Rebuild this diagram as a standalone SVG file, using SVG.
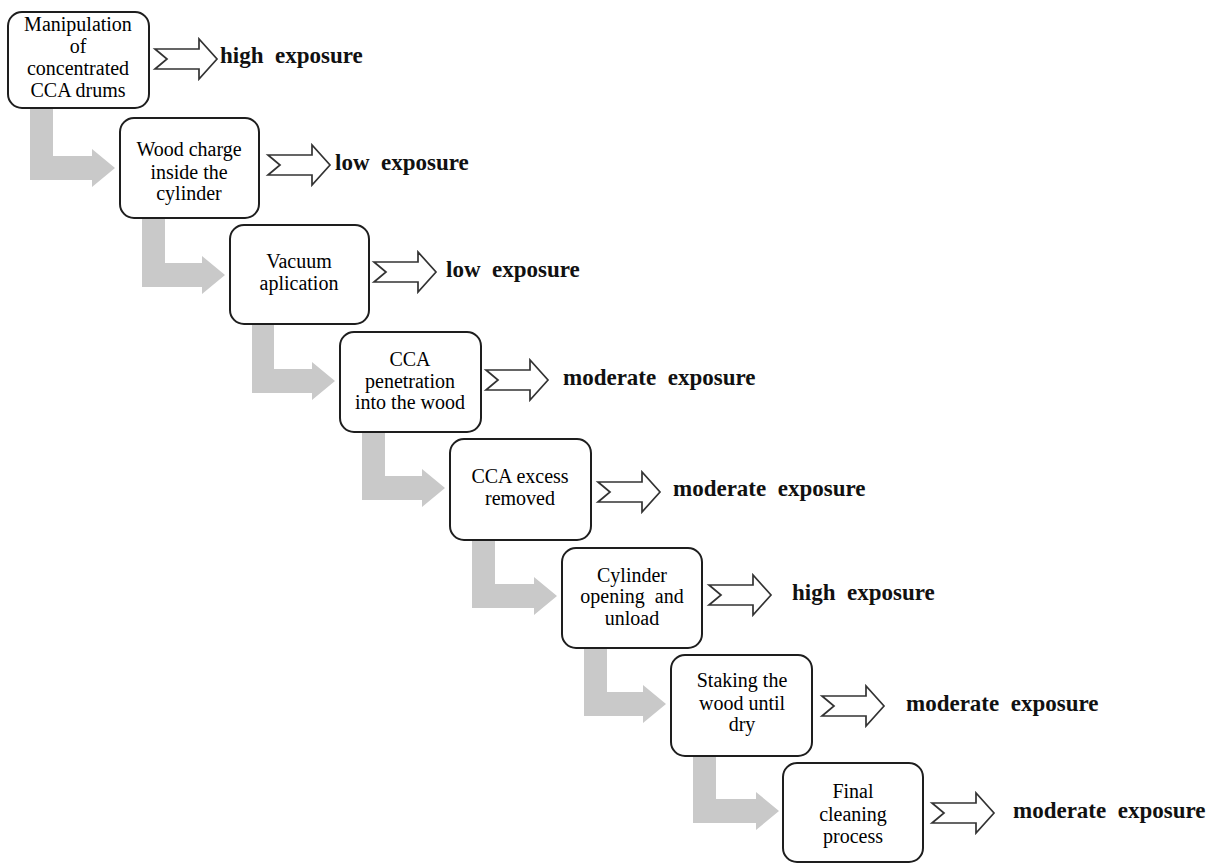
<svg xmlns="http://www.w3.org/2000/svg" width="1217" height="864" viewBox="0 0 1217 864">
<style>
.box{fill:#fff;stroke:#1e1e1e;stroke-width:2}
.bt{font-family:"Liberation Serif","Times New Roman",serif;font-size:20px;fill:#000;text-anchor:middle}
.lbl{font-family:"Liberation Serif","Times New Roman",serif;font-size:23px;font-weight:bold;fill:#111}
.ha{fill:#fff;stroke:#333;stroke-width:1.7;stroke-linejoin:miter}
.ga{fill:#c9c9c9}
</style>
<defs>
<polygon id="hollow" class="ha" points="0,-10 44,-10 44,-20 62,0 44,20 44,10 0,10 12,0"/>
</defs>
<rect width="1217" height="864" fill="#fff"/>
<g id="connectors">
<polygon class="ga" points="30,108 53,108 53,156 92,156 92,149 115,168 92,187 92,180 30,180"/>
<polygon class="ga" points="142,218 165,218 165,263 202,263 202,256 225,275 202,294 202,287 142,287"/>
<polygon class="ga" points="252,324 274,324 274,369 312,369 312,362 335,381 312,400 312,393 252,393"/>
<polygon class="ga" points="362,432 385,432 385,476 422,476 422,469 445,488 422,507 422,500 362,500"/>
<polygon class="ga" points="472,540 495,540 495,584 534,584 534,577 557,596 534,615 534,608 472,608"/>
<polygon class="ga" points="584,648 607,648 607,692 643,692 643,685 666,704 643,723 643,716 584,716"/>
<polygon class="ga" points="693,757 716,757 716,799 756,799 756,792 779,811 756,830 756,823 693,823"/>
<use href="#hollow" x="155" y="59"/>
<use href="#hollow" x="268" y="165"/>
<use href="#hollow" x="374" y="272"/>
<use href="#hollow" x="486" y="380"/>
<use href="#hollow" x="598" y="492"/>
<use href="#hollow" x="709" y="595"/>
<use href="#hollow" x="822" y="706"/>
<use href="#hollow" x="932" y="813"/>
</g>
<g id="node1">
<rect class="box" x="8" y="12" width="141" height="96" rx="14"/>
<text class="bt" x="78" y="31">Manipulation</text>
<text class="bt" x="78" y="53">of</text>
<text class="bt" x="78" y="75">concentrated</text>
<text class="bt" x="78" y="97">CCA drums</text>
<text class="lbl" x="220" y="63">high&#160; exposure</text>
</g>
<g id="node2">
<rect class="box" x="120" y="118" width="139" height="100" rx="14"/>
<text class="bt" x="189" y="156">Wood charge</text>
<text class="bt" x="189" y="179">inside the</text>
<text class="bt" x="189" y="200">cylinder</text>
<text class="lbl" x="335" y="170">low&#160; exposure</text>
</g>
<g id="node3">
<rect class="box" x="230" y="225" width="139" height="99" rx="14"/>
<text class="bt" x="299" y="268">Vacuum</text>
<text class="bt" x="299" y="290">aplication</text>
<text class="lbl" x="446" y="277">low&#160; exposure</text>
</g>
<g id="node4">
<rect class="box" x="340" y="332" width="141" height="100" rx="14"/>
<text class="bt" x="410" y="366">CCA</text>
<text class="bt" x="410" y="388">penetration</text>
<text class="bt" x="410" y="409">into the wood</text>
<text class="lbl" x="563" y="385">moderate&#160; exposure</text>
</g>
<g id="node5">
<rect class="box" x="450" y="439" width="141" height="101" rx="14"/>
<text class="bt" x="520" y="483">CCA excess</text>
<text class="bt" x="520" y="505">removed</text>
<text class="lbl" x="673" y="496">moderate&#160; exposure</text>
</g>
<g id="node6">
<rect class="box" x="562" y="548" width="140" height="100" rx="14"/>
<text class="bt" x="632" y="582">Cylinder</text>
<text class="bt" x="632" y="603">opening&#160; and</text>
<text class="bt" x="632" y="625">unload</text>
<text class="lbl" x="792" y="600">high&#160; exposure</text>
</g>
<g id="node7">
<rect class="box" x="671" y="655" width="141" height="101" rx="14"/>
<text class="bt" x="742" y="687">Staking the</text>
<text class="bt" x="742" y="710">wood until</text>
<text class="bt" x="742" y="731">dry</text>
<text class="lbl" x="906" y="711">moderate&#160; exposure</text>
</g>
<g id="node8">
<rect class="box" x="783" y="763" width="140" height="99" rx="14"/>
<text class="bt" x="853" y="798">Final</text>
<text class="bt" x="853" y="821">cleaning</text>
<text class="bt" x="853" y="843">process</text>
<text class="lbl" x="1013" y="818">moderate&#160; exposure</text>
</g>
</svg>
